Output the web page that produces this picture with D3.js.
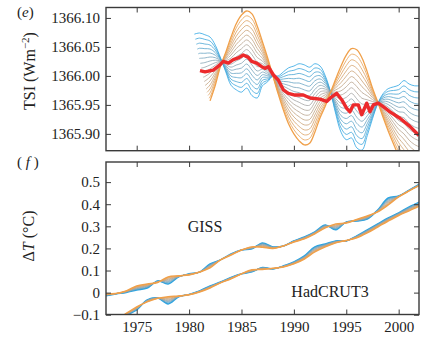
<!DOCTYPE html>
<html>
<head>
<meta charset="utf-8">
<script src="https://cdn.jsdelivr.net/npm/d3@7"></script>
<style>
  body { margin: 0; background: #fff; }
  svg { display: block; font-family: "Liberation Serif", "Times New Roman", serif; }
  svg text { font-family: "Liberation Serif", "Times New Roman", serif; }
</style>
</head>
<body>
<svg id="chart" width="439" height="344"></svg>
<script>
// ---- panel (e): solar irradiance, half-year grid ----
const tsiYears = [1980.5, 1981, 1981.5, 1982, 1982.5, 1983, 1983.5, 1984, 1984.5, 1985,
  1985.5, 1986, 1986.5, 1987, 1987.5, 1988, 1988.5, 1989, 1989.5, 1990,
  1990.5, 1991, 1991.5, 1992, 1992.5, 1993, 1993.5, 1994, 1994.5, 1995,
  1995.5, 1996, 1996.5, 1997, 1997.5, 1998, 1998.5, 1999, 1999.5, 2000,
  2000.5, 2001, 2001.5, 2002];
// blue edge of the fan
const tsiBlue = [1366.072, 1366.074, 1366.071, 1366.067, 1366.053, 1366.031, 1366.007, 1365.984, 1365.976, 1365.972,
  1365.979, 1365.966, 1365.962, 1365.983, 1365.990, 1366.000, 1366.000, 1366.007, 1366.014, 1366.017,
  1366.021, 1366.019, 1366.015, 1366.021, 1366.017, 1366.000, 1365.972, 1365.934, 1365.903, 1365.890,
  1365.893, 1365.876, 1365.872, 1365.897, 1365.926, 1365.952, 1365.969, 1365.978, 1365.981, 1365.984,
  1365.992, 1365.986, 1365.983, 1365.983];
// orange edge of the fan
const tsiOrange = [1365.924, 1365.934, 1365.943, 1365.957, 1365.984, 1366.017, 1366.041, 1366.067, 1366.090, 1366.105,
  1366.112, 1366.107, 1366.086, 1366.059, 1366.031, 1366.000, 1365.969, 1365.941, 1365.917, 1365.900,
  1365.888, 1365.881, 1365.884, 1365.903, 1365.928, 1365.948, 1365.972, 1365.995, 1366.017, 1366.036,
  1366.047, 1366.045, 1366.031, 1366.007, 1365.979, 1365.955, 1365.929, 1365.905, 1365.883, 1365.862,
  1365.845, 1365.831, 1365.821, 1365.814];
// red observed TSI
const redYears = [1981.04, 1981.52, 1982.31, 1982.95, 1983.26, 1983.74, 1984.22, 1984.69, 1985.17, 1985.65,
  1985.97, 1986.45, 1986.93, 1987.24, 1987.56, 1988.03, 1988.51, 1988.99, 1989.47, 1990.10,
  1990.90, 1991.54, 1992.49, 1993.13, 1993.61, 1994.08, 1994.56, 1995.04, 1995.35, 1995.67,
  1996.15, 1996.47, 1996.95, 1997.26, 1997.58, 1998.05, 1998.53, 1999.17, 2000.12, 2001.07,
  2001.72, 2001.94];
const redTsi = [1366.009, 1366.007, 1366.010, 1366.019, 1366.025, 1366.022, 1366.028, 1366.031, 1366.036, 1366.032,
  1366.025, 1366.022, 1366.016, 1366.013, 1366.016, 1366.002, 1365.993, 1365.976, 1365.970, 1365.967,
  1365.967, 1365.962, 1365.960, 1365.956, 1365.964, 1365.970, 1365.959, 1365.944, 1365.938, 1365.950,
  1365.950, 1365.933, 1365.953, 1365.938, 1365.950, 1365.953, 1365.947, 1365.938, 1365.927, 1365.913,
  1365.901, 1365.897];

// ---- panel (f): temperature anomalies, yearly ----
const tYears = [1972, 1973, 1974, 1975, 1976, 1977, 1978, 1979, 1980, 1981, 1982, 1983, 1984, 1985, 1986, 1987,
  1988, 1989, 1990, 1991, 1992, 1993, 1994, 1995, 1996, 1997, 1998, 1999, 2000, 2001, 2002];
const gissBlue = [-0.015, -0.006, 0.001, 0.012, 0.021, 0.053, 0.039, 0.071, 0.085, 0.093, 0.130, 0.148, 0.175, 0.193, 0.198, 0.225,
  0.207, 0.211, 0.234, 0.252, 0.275, 0.306, 0.284, 0.320, 0.324, 0.333, 0.374, 0.428, 0.437, 0.464, 0.492];
const gissOrange = [-0.006, -0.004, 0.008, 0.030, 0.039, 0.046, 0.071, 0.076, 0.080, 0.093, 0.112, 0.148, 0.170, 0.193, 0.207, 0.205,
  0.200, 0.211, 0.229, 0.243, 0.266, 0.293, 0.311, 0.315, 0.331, 0.347, 0.365, 0.397, 0.433, 0.460, 0.485];
const hadBlue = [-0.160, -0.133, -0.103, -0.078, -0.033, -0.024, -0.051, -0.019, -0.008, 0.008, 0.030, 0.048, 0.069, 0.085, 0.094, 0.114,
  0.107, 0.121, 0.139, 0.166, 0.207, 0.220, 0.234, 0.234, 0.257, 0.284, 0.311, 0.338, 0.361, 0.388, 0.410];
const hadOrange = [-0.146, -0.124, -0.094, -0.065, -0.042, -0.026, -0.019, -0.015, -0.010, 0.003, 0.021, 0.044, 0.062, 0.085, 0.103, 0.105,
  0.110, 0.116, 0.130, 0.152, 0.184, 0.207, 0.225, 0.236, 0.248, 0.270, 0.297, 0.324, 0.349, 0.370, 0.392];

const yearTicks = [1975, 1980, 1985, 1990, 1995, 2000];
const tsiTicks = [1365.90, 1365.95, 1366.00, 1366.05, 1366.10];
const tTicks = [-0.1, 0, 0.1, 0.2, 0.3, 0.4, 0.5];
const tTickLabels = ["\u22120.1", "0", "0.1", "0.2", "0.3", "0.4", "0.5"];

const serif = "'Liberation Serif', 'Times New Roman', serif";
const svg = d3.select("#chart");
const frameColor = "#3a3a3a";

const x = d3.scaleLinear().domain([1972.07, 2001.94]).range([106, 419]);
const yTop = d3.scaleLinear().domain([1365.871, 1366.118]).range([150.7, 7.5]);
const yBot = d3.scaleLinear().domain([-0.099, 0.591]).range([314.5, 162]);

const fanColor = d3.scaleLinear()
  .domain([0, 0.5, 1])
  .range(["#2ba4e3", "#a4a4a4", "#f0a04a"])
  .interpolate(d3.interpolateRgb);

// one curve of the fan, blended between the two edges
function fanLine(years, lo, hi, w, start) {
  const pts = [];
  years.forEach((yr, i) => {
    const v = lo[i] + (hi[i] - lo[i]) * w;
    if (yr >= start) {
      if (!pts.length && i > 0 && yr > start) {
        const v0 = lo[i - 1] + (hi[i - 1] - lo[i - 1]) * w;
        const f = (start - years[i - 1]) / (yr - years[i - 1]);
        pts.push([start, v0 + (v - v0) * f]);
      }
      pts.push([yr, v]);
    }
  });
  return pts;
}

function panel(id, yScale, yTicks, yFmt, showX) {
  const [y0, y1] = yScale.range();
  svg.append("clipPath").attr("id", id)
    .append("rect").attr("x", 106).attr("y", y1).attr("width", 313).attr("height", y0 - y1);

  const g = svg.append("g");
  const plot = g.append("g").attr("clip-path", `url(#${id})`);

  const axes = g.append("g");
  const style = sel => {
    sel.attr("font-family", serif).attr("font-size", 15);
    sel.select(".domain").remove();
    sel.selectAll(".tick line").attr("stroke", frameColor).attr("stroke-width", 1);
    sel.selectAll("text").attr("fill", "#222").attr("font-family", serif);
  };
  axes.append("g").attr("transform", `translate(106,0)`)
    .call(d3.axisLeft(yScale).tickValues(yTicks).tickSize(-5).tickPadding(6).tickFormat(yFmt))
    .call(style);
  axes.append("g").attr("transform", `translate(419,0)`)
    .call(d3.axisRight(yScale).tickValues(yTicks).tickSize(-5).tickFormat(""))
    .call(style);
  axes.append("g").attr("transform", `translate(0,${y0})`)
    .call(d3.axisBottom(x).tickValues(yearTicks).tickSize(-5).tickPadding(7)
      .tickFormat(showX ? d3.format("d") : ""))
    .call(style);
  axes.append("g").attr("transform", `translate(0,${y1})`)
    .call(d3.axisTop(x).tickValues(yearTicks).tickSize(-5).tickFormat(""))
    .call(style);

  g.append("rect")
    .attr("x", 106).attr("y", y1).attr("width", 313).attr("height", y0 - y1)
    .attr("fill", "none").attr("stroke", frameColor).attr("stroke-width", 1.4);

  return plot;
}

// ---- panel (e) ----
const topPlot = panel("clipTop", yTop, tsiTicks, d3.format(".2f"), false);
const lineTop = d3.line().x(d => x(d[0])).y(d => yTop(d[1])).curve(d3.curveCatmullRom);

const nTop = 17;
d3.range(nTop).forEach(i => {
  const w = i / (nTop - 1);
  const pts = fanLine(tsiYears, tsiBlue, tsiOrange, w, 1980.5 + 1.5 * w);
  topPlot.append("path")
    .attr("d", lineTop(pts))
    .attr("fill", "none")
    .attr("stroke", fanColor(w))
    .attr("stroke-width", i === nTop - 1 ? 1.3 : 0.8);
});

topPlot.append("path")
  .attr("d", d3.line().x((d, i) => x(redYears[i])).y(d => yTop(d))(redTsi))
  .attr("fill", "none")
  .attr("stroke", "#ec2a2c")
  .attr("stroke-width", 3.4)
  .attr("stroke-linejoin", "round");

// ---- panel (f) ----
const botPlot = panel("clipBot", yBot, tTicks, (d, i) => tTickLabels[i], true);
const lineBot = d3.line().x(d => x(d[0])).y(d => yBot(d[1])).curve(d3.curveCatmullRom);

const nBot = 10;
[[gissBlue, gissOrange], [hadBlue, hadOrange]].forEach(([lo, hi]) => {
  d3.range(nBot).forEach(i => {
    const w = i / (nBot - 1);
    botPlot.append("path")
      .attr("d", lineBot(fanLine(tYears, lo, hi, w, 1972)))
      .attr("fill", "none")
      .attr("stroke", fanColor(w))
      .attr("stroke-width", i === 0 || i === nBot - 1 ? 1.5 : 0.8);
  });
});

// ---- text ----
const txt = svg.append("g").attr("fill", "#222");
txt.append("text").attr("x", 205).attr("y", 232).attr("font-size", 16)
  .attr("text-anchor", "middle").text("GISS");
txt.append("text").attr("x", 330).attr("y", 297).attr("font-size", 16)
  .attr("text-anchor", "middle").text("HadCRUT3");

const pe = txt.append("text").attr("x", 17).attr("y", 17).attr("font-size", 15);
pe.append("tspan").text("(");
pe.append("tspan").attr("font-style", "italic").text("e");
pe.append("tspan").text(")");
const pf = txt.append("text").attr("x", 17).attr("y", 167).attr("font-size", 15);
pf.append("tspan").text("( ");
pf.append("tspan").attr("font-style", "italic").text("f");
pf.append("tspan").text(" )");

const tsiLab = txt.append("text")
  .attr("transform", "translate(35,71) rotate(-90)")
  .attr("text-anchor", "middle").attr("font-size", 16);
tsiLab.append("tspan").text("TSI (Wm");
tsiLab.append("tspan").attr("font-size", 11).attr("dy", -6).text("\u22122");
tsiLab.append("tspan").attr("dy", 6).text(")");

const dtLab = txt.append("text")
  .attr("transform", "translate(34,236) rotate(-90)")
  .attr("text-anchor", "middle").attr("font-size", 16);
dtLab.append("tspan").text("\u0394");
dtLab.append("tspan").attr("font-style", "italic").text("T");
dtLab.append("tspan").text(" (\u00B0C)");
</script>
</body>
</html>
